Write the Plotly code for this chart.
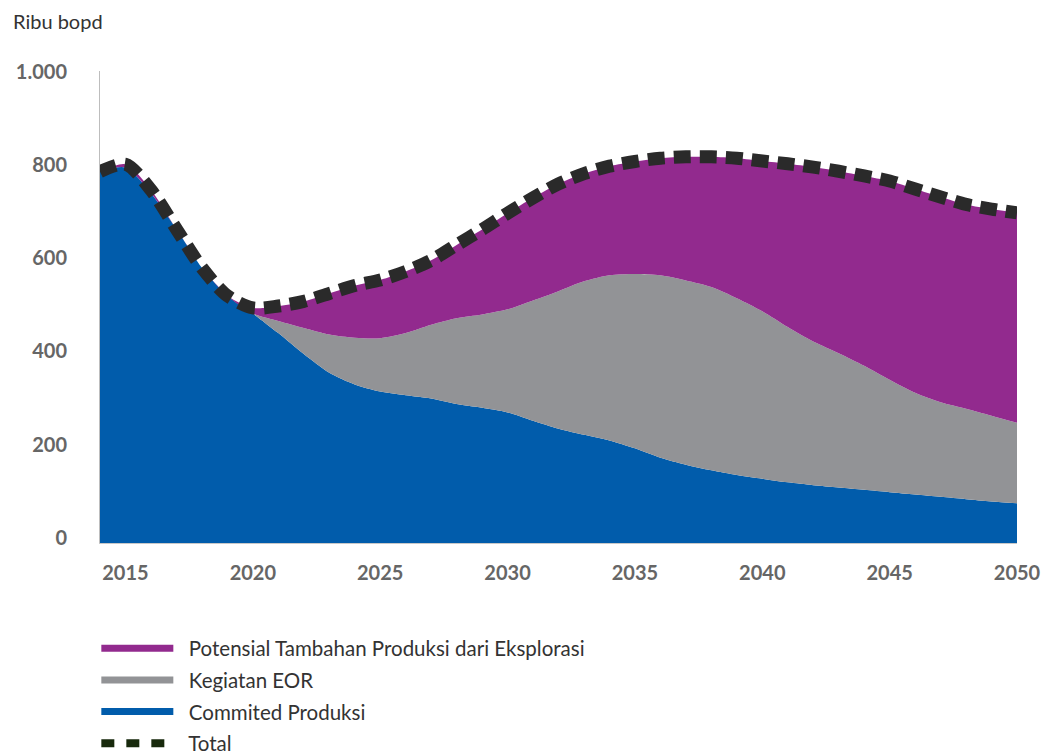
import plotly.graph_objects as go

years = list(range(2014, 2051))

committed = [796, 805, 750, 673, 590, 530, 492, 450, 405, 365,
             340, 325, 317, 310, 298, 290, 280, 262, 245, 232,
             220, 203, 183, 168, 156, 146, 138, 130, 124, 119,
             114, 109, 104, 99, 94, 89, 85]

eor = [0, 0, 0, 0, 0, 0, 0, 26, 56, 82,
       100, 114, 133, 158, 184, 200, 221, 258, 295, 329,
       354, 374, 391, 395, 393, 379, 359, 333, 308, 288,
       266, 241, 218, 203, 194, 184, 173]

exploration = [0, 7, 7, 0, 0, 0, 12, 32, 57, 88,
               112, 125, 132, 138, 157, 182, 206, 220, 230, 231,
               234, 241, 251, 265, 279, 300, 322, 350, 374, 390,
               407, 426, 437, 440, 438, 443, 450]

total = [a + b + c for a, b, c in zip(committed, eor, exploration)]

x_ticks = [2015, 2020, 2025, 2030, 2035, 2040, 2045, 2050]
y_ticks = [0, 200, 400, 600, 800, 1000]
y_ticktext = ["0", "200", "400", "600", "800", "1.000"]

names = ["Potensial Tambahan Produksi dari Eksplorasi", "Kegiatan EOR", "Commited Produksi", "Total"]

BLUE = "#015CAB"
GREY = "#929396"
PURPLE = "#922A8E"
DARK = "#2A2A2A"
FONT = "Lato"
PAD = "\u00a0\u00a0"

fig = go.Figure()

for vals, col in [(committed, BLUE), (eor, GREY), (exploration, PURPLE)]:
    fig.add_trace(go.Scatter(
        x=years, y=vals, stackgroup="one", mode="lines",
        line=dict(width=0, shape="spline", smoothing=0.8, color=col),
        fillcolor=col, showlegend=False, hoverinfo="skip"))

fig.add_trace(go.Scatter(
    x=years, y=total, mode="lines",
    line=dict(color=DARK, width=13, dash="17px,9px", shape="spline", smoothing=0.8),
    showlegend=False, hoverinfo="skip"))

# legend entries
for i, (name, col, dash, w) in enumerate([(names[0], PURPLE, "solid", 7), (names[1], GREY, "solid", 7),
                                          (names[2], BLUE, "solid", 7), (names[3], "#17290C", "13px,12px", 8)]):
    fig.add_trace(go.Scatter(x=[None], y=[None], mode="lines", name=PAD + name,
                             legendgroup="g%d" % i,
                             line=dict(color=col, width=w, dash=dash)))

fig.update_layout(
    width=1043, height=754,
    margin=dict(l=100, r=26, t=71, b=211, autoexpand=False),
    paper_bgcolor="white", plot_bgcolor="white",
    font=dict(family=FONT, size=20, color="#333333"),
    showlegend=True,
    legend=dict(x=-0.004, xanchor="left", y=-0.181, yanchor="top", orientation="v",
                traceorder="grouped", itemwidth=72, tracegroupgap=2,
                font=dict(family=FONT, size=20.5, color="#333333"),
                bgcolor="rgba(0,0,0,0)"),
    xaxis=dict(range=[2014, 2050], tickvals=x_ticks, ticks="", showgrid=False, automargin=False,
               zeroline=False, showline=True, linecolor="#C8C8C8", linewidth=1,
               tickfont=dict(family=FONT, size=20, color="#666666", weight="bold"),
               ticklabelstandoff=12),
    yaxis=dict(range=[0, 1012], tickvals=y_ticks, ticktext=y_ticktext, ticks="", automargin=False,
               showgrid=False, zeroline=False, showline=True, linecolor="#BDBDBD", linewidth=1,
               tickfont=dict(family=FONT, size=20, color="#666666", weight="bold"),
               ticklabelstandoff=28, ticklabelshift=-5),
    annotations=[dict(text="Ribu bopd", xref="paper", yref="paper", x=-0.097, y=1.105,
                      xanchor="left", yanchor="middle", showarrow=False,
                      font=dict(family=FONT, size=20, color="#333333"))],
)

fig.write_html("out.html")
